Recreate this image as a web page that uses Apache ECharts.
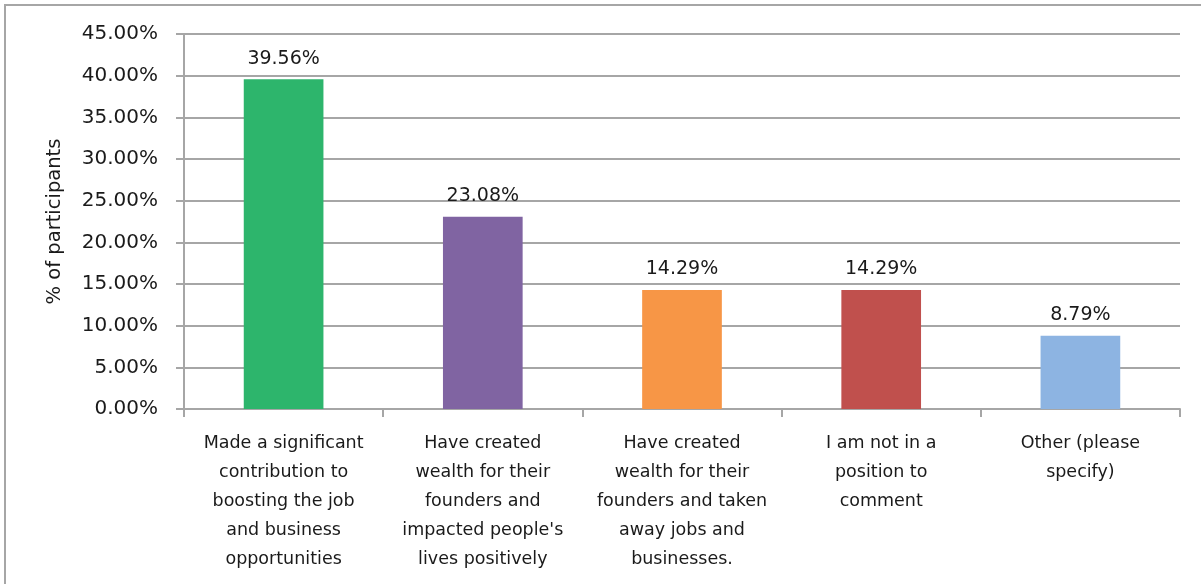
<!DOCTYPE html>
<html>
<head>
<meta charset="utf-8">
<script src="https://cdn.jsdelivr.net/npm/echarts@6/dist/echarts.min.js"></script>
<style>
  html, body { margin: 0; padding: 0; background: #fff; }
  #chart { width: 1201px; height: 584px; }
</style>
</head>
<body>
<div id="chart"></div>
<script>
// Survey responses: share of participants per answer
const categories = [
  'Made a significant\ncontribution to\nboosting the job\nand business\nopportunities',
  'Have created\nwealth for their\nfounders and\nimpacted people\'s\nlives positively',
  'Have created\nwealth for their\nfounders and taken\naway jobs and\nbusinesses.',
  'I am not in a\nposition to\ncomment',
  'Other (please\nspecify)'
];
const shares = [39.56, 23.08, 14.29, 14.29, 8.79];
const barColors = ['#2DB56C', '#8064A2', '#F79646', '#C0504D', '#8DB4E2'];
const yAxisTitle = '% of participants';

const FONT = '"DejaVu Sans", Verdana, sans-serif';
const TEXT = '#1a1a1a';
const chart = echarts.init(document.getElementById('chart'));

chart.setOption({
  animation: false,
  backgroundColor: '#fff',
  graphic: [{
    type: 'rect',
    shape: { x: 5, y: 5, width: 1220, height: 600 },
    style: { fill: 'none', stroke: '#A6A6A6', lineWidth: 2 },
    silent: true
  }],
  grid: { left: 184, right: 21, top: 34, bottom: 175 },
  xAxis: {
    type: 'category',
    data: categories,
    axisLine: { lineStyle: { color: '#A6A6A6', width: 2 } },
    axisTick: { show: true, length: 8, lineStyle: { color: '#A6A6A6', width: 2 } },
    axisLabel: {
      interval: 0,
      margin: 20,
      color: TEXT,
      fontFamily: FONT,
      fontSize: 17.5,
      lineHeight: 29,
      align: 'center'
    }
  },
  yAxis: {
    type: 'value',
    min: 0,
    max: 45,
    interval: 5,
    name: yAxisTitle,
    nameLocation: 'middle',
    nameGap: 119,
    nameRotate: 90,
    nameTextStyle: { color: TEXT, fontFamily: FONT, fontSize: 19.5 },
    axisLine: { show: true, lineStyle: { color: '#A6A6A6', width: 2 } },
    axisTick: { show: true, length: 8, lineStyle: { color: '#A6A6A6', width: 2 } },
    splitLine: { lineStyle: { color: '#A6A6A6', width: 2 } },
    axisLabel: {
      margin: 26,
      color: TEXT,
      fontFamily: FONT,
      fontSize: 20,
      formatter: v => v.toFixed(2) + '%'
    }
  },
  series: [{
    type: 'bar',
    data: shares.map((v, i) => ({ value: v, itemStyle: { color: barColors[i] } })),
    barWidth: '40%',
    label: {
      show: true,
      position: 'top',
      distance: 11,
      color: TEXT,
      fontFamily: FONT,
      fontSize: 19,
      formatter: p => p.value.toFixed(2) + '%'
    }
  }]
});
</script>
</body>
</html>
